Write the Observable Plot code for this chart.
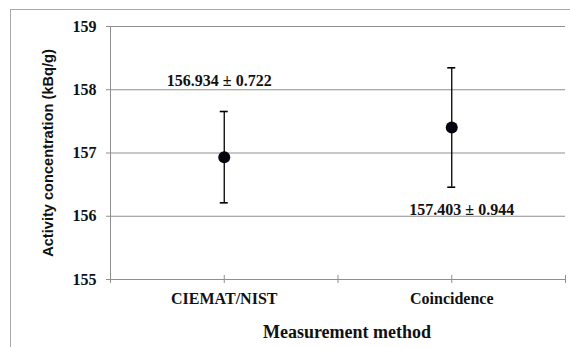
<!DOCTYPE html>
<html>
<head>
<meta charset="utf-8">
<script src="https://cdn.jsdelivr.net/npm/d3@7"></script>
<script src="https://cdn.jsdelivr.net/npm/@observablehq/plot@0.6"></script>
<style>
  html, body { margin: 0; padding: 0; background: #fff; }
  #wrap { position: relative; width: 570px; height: 347px; overflow: hidden; }
  #wrap svg { position: absolute; left: 0; top: 0; }
  #border { position: absolute; left: 10px; top: 9px; width: 600px; height: 400px;
            border-left: 1px solid #a8a8a8; border-top: 1px solid #a8a8a8; pointer-events: none; }
</style>
</head>
<body>
<div id="wrap"><div id="border"></div></div>
<script>
const categories = ["CIEMAT/NIST", "Coincidence"];
const values = [156.934, 157.403];
const uncertainties = [0.722, 0.944];
const yTicks = [155, 156, 157, 158, 159];
const xTitle = "Measurement method";
const yTitle = "Activity concentration (kBq/g)";

const data = categories.map((c, i) => ({
  cat: c, pos: i + 0.5, v: values[i], u: uncertainties[i],
  lo: values[i] - uncertainties[i], hi: values[i] + uncertainties[i],
  label: `${values[i].toFixed(3)} ± ${uncertainties[i].toFixed(3)}`
}));
const xTickPositions = d3.range(0, categories.length + 0.01, 0.5);
const serif = "Liberation Serif";

const chart = Plot.plot({
  width: 570,
  height: 347,
  marginLeft: 110,
  marginRight: 5,
  marginTop: 26,
  marginBottom: 68,
  style: { fontFamily: "Liberation Serif, serif", fontSize: "16px", fontWeight: "bold", color: "#000", background: "transparent" },
  x: { domain: [0, categories.length], axis: null },
  y: { domain: [155, 159], axis: null },
  marks: [
    Plot.ruleY(yTicks.filter(t => t > 155), { stroke: "#8f8f8f", strokeWidth: 1 }),
    Plot.ruleY([155], { stroke: "#8f8f8f", strokeWidth: 1 }),
    Plot.ruleX([0], { stroke: "#8f8f8f", strokeWidth: 1 }),
    Plot.ruleX(xTickPositions, { y1: 155, y2: 155, insetTop: -4, insetBottom: -4, stroke: "#8f8f8f" }),
    Plot.ruleY(yTicks, { x1: 0, x2: 0, insetLeft: -4, stroke: "#8f8f8f" }),
    Plot.text(yTicks, { x: 0, y: d => d, text: d => String(d), textAnchor: "end", dx: -14, fontSize: 16, fontWeight: "bold", fontFamily: serif, fill: "#111" }),
    Plot.text(data, { x: "pos", y: 155, text: "cat", dy: 19, fontSize: 16, fontWeight: "bold", fontFamily: serif, fill: "#111" }),
    Plot.text([xTitle], { frameAnchor: "bottom", lineAnchor: "middle", dx: 9, dy: 53, fontSize: 18, fontWeight: "bold", fontFamily: serif, fill: "#111" }),
    Plot.text([yTitle], { frameAnchor: "left", textAnchor: "middle", dx: -62, rotate: -90, fontSize: 14.6, fontWeight: "bold", fontFamily: "Liberation Sans", fill: "#111" }),
    Plot.ruleX(data, { x: "pos", y1: "lo", y2: "hi", stroke: "#000", strokeWidth: 1.3 }),
    Plot.ruleY(data, { x1: "pos", x2: "pos", y: "hi", insetLeft: -4, insetRight: -4, stroke: "#000", strokeWidth: 1.6 }),
    Plot.ruleY(data, { x1: "pos", x2: "pos", y: "lo", insetLeft: -4, insetRight: -4, stroke: "#000", strokeWidth: 1.6 }),
    Plot.dot(data, { x: "pos", y: "v", r: 6, fill: "#05050f", stroke: "none" }),
    Plot.text(data.slice(0, 1), { x: "pos", y: "hi", text: "label", dx: -5, dy: -31, fontSize: 16, fontWeight: "bold", fontFamily: serif, fill: "#111" }),
    Plot.text(data.slice(1, 2), { x: "pos", y: "lo", text: "label", dx: 10, dy: 23, fontSize: 16, fontWeight: "bold", fontFamily: serif, fill: "#111" })
  ]
});
document.getElementById("wrap").insertBefore(chart, document.getElementById("border"));
</script>
</body>
</html>
